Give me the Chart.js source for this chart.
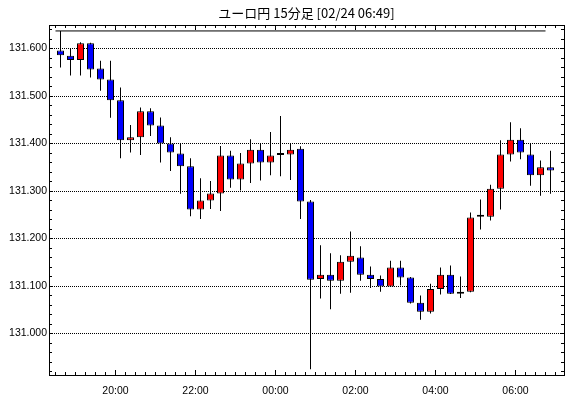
<!DOCTYPE html>
<html lang="ja">
<head>
<meta charset="utf-8">
<title>ユーロ円 15分足</title>
<script src="https://cdn.jsdelivr.net/npm/chart.js@4.4.1/dist/chart.umd.min.js"></script>
<style>
  html, body { margin: 0; padding: 0; background: #fff; }
  #chart { display: block; }
</style>
</head>
<body>
<canvas id="chart" width="570" height="398"></canvas>
<script>
const chartTitle = 'ユーロ円 15分足 [02/24 06:49]';

// 15分足の開始時刻
const times = [
  '18:30', '18:45', '19:00', '19:15', '19:30', '19:45', '20:00', '20:15', '20:30', '20:45',
  '21:00', '21:15', '21:30', '21:45', '22:00', '22:15', '22:30', '22:45', '23:00', '23:15',
  '23:30', '23:45', '00:00', '00:15', '00:30', '00:45', '01:00', '01:15', '01:30', '01:45',
  '02:00', '02:15', '02:30', '02:45', '03:00', '03:15', '03:30', '03:45', '04:00', '04:15',
  '04:30', '04:45', '05:00', '05:15', '05:30', '05:45', '06:00', '06:15', '06:30', '06:45'
];

const opens = [
  131.596, 131.585, 131.576, 131.611, 131.558, 131.535, 131.491, 131.407, 131.413, 131.468,
  131.438, 131.400, 131.379, 131.352, 131.261, 131.280, 131.295, 131.375, 131.324, 131.358,
  131.387, 131.360, 131.376, 131.377, 131.389, 131.278, 131.115, 131.124, 131.111, 131.151,
  131.160, 131.124, 131.115, 131.099, 131.139, 131.118, 131.065, 131.046, 131.094, 131.124,
  131.084, 131.088, 131.246, 131.246, 131.305, 131.377, 131.408, 131.377, 131.333, 131.350
];
const highs = [
  131.637, 131.600, 131.613, 131.612, 131.574, 131.574, 131.518, 131.439, 131.476, 131.474,
  131.455, 131.413, 131.400, 131.369, 131.327, 131.321, 131.395, 131.385, 131.380, 131.409,
  131.400, 131.424, 131.458, 131.400, 131.394, 131.281, 131.186, 131.169, 131.165, 131.215,
  131.184, 131.141, 131.122, 131.153, 131.153, 131.119, 131.080, 131.105, 131.139, 131.143,
  131.120, 131.255, 131.282, 131.313, 131.407, 131.445, 131.432, 131.400, 131.364, 131.385
];
const lows = [
  131.560, 131.543, 131.543, 131.539, 131.511, 131.454, 131.369, 131.381, 131.376, 131.416,
  131.360, 131.342, 131.294, 131.247, 131.241, 131.262, 131.258, 131.307, 131.301, 131.317,
  131.322, 131.333, 131.331, 131.323, 131.241, 130.925, 131.074, 131.051, 131.084, 131.086,
  131.111, 131.096, 131.088, 131.098, 131.101, 131.063, 131.029, 131.042, 131.082, 131.083,
  131.075, 131.087, 131.219, 131.238, 131.261, 131.362, 131.367, 131.311, 131.290, 131.294
];
const closes = [
  131.586, 131.576, 131.611, 131.556, 131.535, 131.491, 131.407, 131.413, 131.468, 131.438,
  131.400, 131.381, 131.352, 131.261, 131.280, 131.295, 131.375, 131.324, 131.358, 131.387,
  131.360, 131.375, 131.376, 131.387, 131.278, 131.113, 131.124, 131.111, 131.151, 131.164,
  131.124, 131.115, 131.099, 131.139, 131.118, 131.065, 131.046, 131.094, 131.124, 131.084,
  131.088, 131.244, 131.246, 131.305, 131.377, 131.408, 131.381, 131.333, 131.350, 131.343
];

const xTickLabels = ['20:00', '22:00', '00:00', '02:00', '04:00', '06:00'];
const yTickValues = [131.0, 131.1, 131.2, 131.3, 131.4, 131.5, 131.6];

// 表示範囲
const X_MIN = -9.75, X_MAX = 762.75;
const Y_MIN = 130.9127, Y_MAX = 131.6495;
const BAR_MINUTES = 15;

const startMin = (() => { const [h, m] = times[0].split(':').map(Number); return h * 60 + m; })();
const toMinutes = (s) => {
    const [h, m] = s.split(':').map(Number);
    let v = h * 60 + m - startMin;
    if (v < 0) v += 1440;
    return v;
};
const centerOf = (s) => toMinutes(s) + BAR_MINUTES / 2;

const bodyData = times.map((t, i) => ({ x: centerOf(t), y: [opens[i], closes[i]] }));
const wickData = times.map((t, i) => ({ x: centerOf(t), y: [lows[i], highs[i]] }));
const bodyColors = opens.map((o, i) => closes[i] >= o ? '#ff0000' : '#0000ff');
const highLine = [
    { x: toMinutes(times[0]), y: Math.max(...highs) },
    { x: toMinutes(times[times.length - 1]), y: Math.max(...highs) }
];

const majorX = xTickLabels.map(toMinutes);
const minorX = [];
for (let t = 0; t <= X_MAX; t += BAR_MINUTES) minorX.push(t);
const minorY = [];
for (let v = 130.92; v <= Y_MAX + 1e-9; v += 0.02) minorY.push(Math.round(v * 1000) / 1000);

const labelFont = { family: "'Liberation Sans', Arial, sans-serif", size: 10.5 };

// 目盛り線だけの軸（内向き）
const tickAxis = (axis, position, values, len, weight) => ({
    type: 'linear',
    axis,
    position,
    min: axis === 'x' ? X_MIN : Y_MIN,
    max: axis === 'x' ? X_MAX : Y_MAX,
    bounds: 'data',
    offset: false,
    beginAtZero: false,
    weight,
    afterBuildTicks: (s) => { s.ticks = values.map(v => ({ value: v })); },
    afterFit: (s) => { if (axis === 'x') s.height = 0; else s.width = position === 'right' ? 6 : 0; },
    ticks: { display: false },
    grid: { display: true, drawOnChartArea: false, offset: false, color: '#000', tickLength: len, tickWidth: 1 },
    border: { display: true, color: '#000', width: 1 }
});

new Chart(document.getElementById('chart').getContext('2d'), {
    type: 'bar',
    data: {
        datasets: [
            {
                type: 'bar',
                data: bodyData,
                backgroundColor: bodyColors,
                borderColor: '#000',
                borderWidth: 1,
                borderSkipped: false,
                grouped: false,
                maxBarThickness: 7,
                minBarLength: 2,
                order: 0,
                xAxisID: 'x',
                yAxisID: 'y'
            },
            {
                type: 'bar',
                data: wickData,
                backgroundColor: '#000',
                borderWidth: 0,
                grouped: false,
                maxBarThickness: 1,
                order: 1,
                xAxisID: 'x',
                yAxisID: 'y'
            },
            {
                type: 'line',
                data: highLine,
                borderColor: '#000',
                borderWidth: 1,
                pointRadius: 0,
                order: 2,
                xAxisID: 'x',
                yAxisID: 'y'
            }
        ]
    },
    options: {
        responsive: false,
        animation: false,
        events: [],
        layout: { padding: 0 },
        plugins: {
            legend: { display: false },
            tooltip: { enabled: false },
            title: {
                display: true,
                text: chartTitle,
                fullSize: false,
                color: '#000',
                font: { family: "'Noto Sans CJK JP', sans-serif", size: 13, weight: 'normal', lineHeight: 1.2 },
                padding: { top: 5, bottom: 4.4 }
            }
        },
        scales: {
            x: {
                type: 'linear',
                axis: 'x',
                position: 'bottom',
                min: X_MIN,
                max: X_MAX,
                bounds: 'data',
                offset: false,
                weight: 1,
                afterBuildTicks: (s) => { s.ticks = majorX.map(v => ({ value: v })); },
                afterFit: (s) => { s.height = 23; },
                ticks: {
                    autoSkip: false,
                    maxRotation: 0,
                    padding: 15,
                    color: '#000',
                    font: labelFont,
                    callback: (v, i) => xTickLabels[i]
                },
                grid: { display: true, drawOnChartArea: false, offset: false, color: '#000', tickLength: -5 },
                border: { display: true, color: '#000', width: 1 }
            },
            xm: tickAxis('x', 'bottom', minorX, -3, 0),
            xt: tickAxis('x', 'top', minorX, -3, 0),
            xtM: tickAxis('x', 'top', majorX, -5, 0),
            y: {
                type: 'linear',
                axis: 'y',
                position: 'left',
                min: Y_MIN,
                max: Y_MAX,
                bounds: 'data',
                beginAtZero: false,
                weight: 1,
                afterBuildTicks: (s) => { s.ticks = yTickValues.map(v => ({ value: v })); },
                afterFit: (s) => { s.width = 49; },
                ticks: {
                    autoSkip: false,
                    padding: 2,
                    color: '#000',
                    font: labelFont,
                    callback: (v) => Number(v).toFixed(3)
                },
                grid: { display: true, drawOnChartArea: true, drawTicks: false, color: '#000', lineWidth: 1 },
                border: { display: true, color: '#000', width: 1, dash: [1, 1] }
            },
            ym: tickAxis('y', 'left', minorY, -3, 0),
            yr: tickAxis('y', 'right', minorY, -3, 0)
        }
    }
});
</script>
</body>
</html>
